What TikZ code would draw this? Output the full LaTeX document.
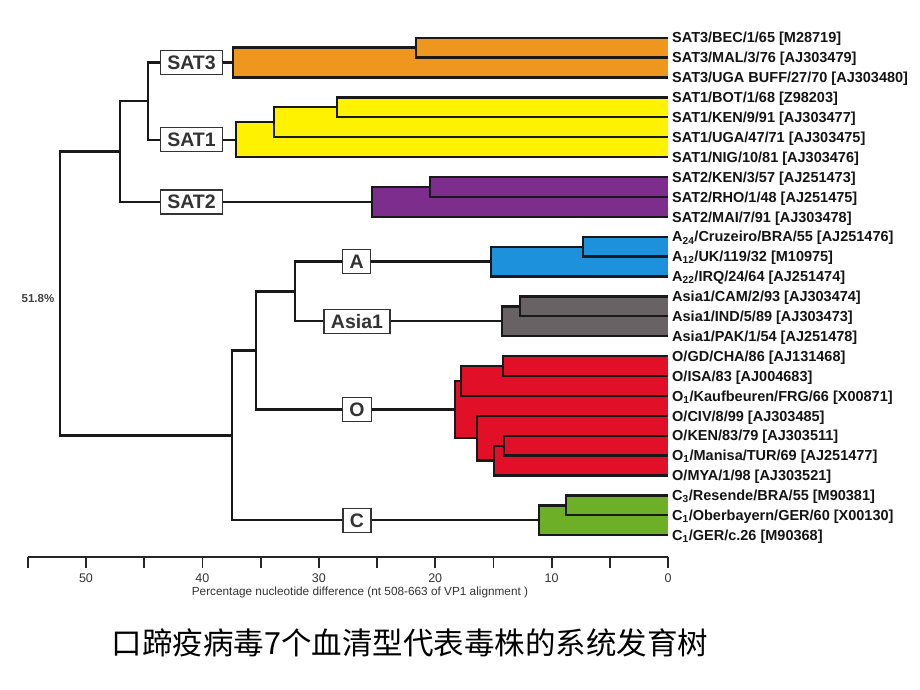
\documentclass[tikz,border=0pt]{standalone}
\usepackage{fontspec}
\setmainfont{Liberation Sans}
\newfontfamily\cjk{Noto Sans CJK SC}
\definecolor{satthree}{RGB}{238,150,30}
\definecolor{satone}{RGB}{255,242,0}
\definecolor{sattwo}{RGB}{125,45,140}
\definecolor{typea}{RGB}{30,145,220}
\definecolor{typeasia}{RGB}{105,98,100}
\definecolor{typeo}{RGB}{225,15,40}
\definecolor{typec}{RGB}{110,175,40}

\begin{document}
\begin{tikzpicture}[x=1pt,y=-1pt,
  branch/.style={line width=2.3pt, draw=black!90},
  tiplabel/.style={anchor=west, inner sep=0pt, text=black!92,
    font=\fontsize{14.5}{16}\selectfont\bfseries, text height=10.4pt, text depth=0pt},
  serobox/.style={draw=black!80, line width=1.5pt, fill=white, text=black!80,
    font=\fontsize{19.5}{20}\selectfont\bfseries, inner xsep=7pt, inner ysep=0pt,
    minimum height=24pt, text height=14pt, text depth=0pt},
  axisline/.style={line width=1.8pt, draw=black!85},
  axislabel/.style={font=\fontsize{12.5}{13}\selectfont, text=black!80, inner sep=0pt}]
\useasboundingbox (0,0) rectangle (920,690);
% Tips and their labels
\foreach \lab [count=\i from 0] in {
  {SAT3/BEC/1/65 [M28719]}, {SAT3/MAL/3/76 [AJ303479]}, {SAT3/UGA BUFF/27/70 [AJ303480]},
  {SAT1/BOT/1/68 [Z98203]}, {SAT1/KEN/9/91 [AJ303477]}, {SAT1/UGA/47/71 [AJ303475]},
  {SAT1/NIG/10/81 [AJ303476]}, {SAT2/KEN/3/57 [AJ251473]}, {SAT2/RHO/1/48 [AJ251475]},
  {SAT2/MAI/7/91 [AJ303478]}, {A\textsubscript{24}/Cruzeiro/BRA/55 [AJ251476]},
  {A\textsubscript{12}/UK/119/32 [M10975]}, {A\textsubscript{22}/IRQ/24/64 [AJ251474]},
  {Asia1/CAM/2/93 [AJ303474]}, {Asia1/IND/5/89 [AJ303473]}, {Asia1/PAK/1/54 [AJ251478]},
  {O/GD/CHA/86 [AJ131468]}, {O/ISA/83 [AJ004683]}, {O\textsubscript{1}/Kaufbeuren/FRG/66 [X00871]},
  {O/CIV/8/99 [AJ303485]}, {O/KEN/83/79 [AJ303511]}, {O\textsubscript{1}/Manisa/TUR/69 [AJ251477]},
  {O/MYA/1/98 [AJ303521]}, {C\textsubscript{3}/Resende/BRA/55 [M90381]},
  {C\textsubscript{1}/Oberbayern/GER/60 [X00130]}, {C\textsubscript{1}/GER/c.26 [M90368]}}{
  \coordinate (t\i) at (668,37.7+19.9*\i);
  \node[tiplabel] (l\i) at (672,37.7+19.9*\i) {\lab};
}
% Internal nodes
\coordinate (n3a) at (416,47.65);
\coordinate (nSAT3) at (233,62.6);
\coordinate (n1a) at (336.7,107.35);
\coordinate (n1b) at (274.3,122.3);
\coordinate (nSAT1) at (236,139.7);
\coordinate (n2a) at (430,186.95);
\coordinate (nSAT2) at (372.3,201.9);
\coordinate (nS31) at (148,101.15);
\coordinate (nSAT) at (120,151.5);
\coordinate (nAa) at (583.3,246.65);
\coordinate (nA) at (491,261.6);
\coordinate (nAsa) at (520,306.35);
\coordinate (nAsia) at (502.3,321.3);
\coordinate (nAAs) at (295,291.45);
\coordinate (nOa) at (502.7,366.05);
\coordinate (nOb) at (460.7,381);
\coordinate (nOc) at (504.3,445.65);
\coordinate (nOd) at (494.3,460.6);
\coordinate (nOe) at (476.7,438.2);
\coordinate (nO) at (455,409.6);
\coordinate (nAAsO) at (256,350.5);
\coordinate (nCa) at (565.7,505.35);
\coordinate (nC) at (539,520.3);
\coordinate (nAll) at (232,435.4);
\coordinate (root) at (60,293.45);
% Coloured clades
\fill[satthree] (nSAT3 |- n3a) rectangle (t2);
\fill[satthree] (n3a |- t0) rectangle (t1);
\fill[satone] (nSAT1 |- n1b) rectangle (t6);
\fill[satone] (n1b |- n1a) rectangle (t5);
\fill[satone] (n1a |- t3) rectangle (t4);
\fill[sattwo] (nSAT2 |- n2a) rectangle (t9);
\fill[sattwo] (n2a |- t7) rectangle (t8);
\fill[typea] (nA |- nAa) rectangle (t12);
\fill[typea] (nAa |- t10) rectangle (t11);
\fill[typeasia] (nAsia |- nAsa) rectangle (t15);
\fill[typeasia] (nAsa |- t13) rectangle (t14);
\fill[typeo] (nO |- nOb) rectangle (t22 |- nOe);
\fill[typeo] (nOb |- nOa) rectangle (t18);
\fill[typeo] (nOa |- t16) rectangle (t17);
\fill[typeo] (nOe |- t19) rectangle (t22 |- nOd);
\fill[typeo] (nOd |- nOc) rectangle (t22);
\fill[typeo] (nOc |- t20) rectangle (t21);
\fill[typec] (nC |- nCa) rectangle (t25);
\fill[typec] (nCa |- t23) rectangle (t24);
% Branches inside the clades
\draw[branch] (n3a) |- (t0) (n3a) |- (t1) (nSAT3) |- (n3a) (nSAT3) |- (t2);
\draw[branch] (n1a) |- (t3) (n1a) |- (t4) (n1b) |- (n1a) (n1b) |- (t5)
  (nSAT1) |- (n1b) (nSAT1) |- (t6);
\draw[branch] (n2a) |- (t7) (n2a) |- (t8) (nSAT2) |- (n2a) (nSAT2) |- (t9);
\draw[branch] (nAa) |- (t10) (nAa) |- (t11) (nA) |- (nAa) (nA) |- (t12);
\draw[branch] (nAsa) |- (t13) (nAsa) |- (t14) (nAsia) |- (nAsa) (nAsia) |- (t15);
\draw[branch] (nOa) |- (t16) (nOa) |- (t17) (nOb) |- (nOa) (nOb) |- (t18)
  (nOc) |- (t20) (nOc) |- (t21) (nOd) |- (nOc) (nOd) |- (t22)
  (nOe) |- (t19) (nOe) |- (nOd) (nO) |- (nOb) (nO) |- (nOe);
\draw[branch] (nCa) |- (t23) (nCa) |- (t24) (nC) |- (nCa) (nC) |- (t25);
% Serotype boxes
\node[serobox] (bSAT3) at (191.5,62.6) {SAT3};
\node[serobox] (bSAT1) at (191.5,139.7) {SAT1};
\node[serobox] (bSAT2) at (191.5,201.9) {SAT2};
\node[serobox] (bA) at (356.7,261.6) {A};
\node[serobox] (bAsia) at (357,321.3) {Asia1};
\node[serobox] (bO) at (357,409.6) {O};
\node[serobox] (bC) at (357,520.3) {C};
% Backbone
\draw[branch] (nS31) |- (bSAT3.west) (bSAT3.east) -- (nSAT3);
\draw[branch] (nS31) |- (bSAT1.west) (bSAT1.east) -- (nSAT1);
\draw[branch] (nSAT) |- (nS31) (nSAT) |- (bSAT2.west) (bSAT2.east) -- (nSAT2);
\draw[branch] (root) |- (nSAT) (root) |- (nAll);
\draw[branch] (nAll) |- (nAAsO) (nAll) |- (bC.west) (bC.east) -- (nC);
\draw[branch] (nAAsO) |- (nAAs) (nAAsO) |- (bO.west) (bO.east) -- (nO);
\draw[branch] (nAAs) |- (bA.west) (bA.east) -- (nA);
\draw[branch] (nAAs) |- (bAsia.west) (bAsia.east) -- (nAsia);
\node[font=\fontsize{11.5}{12}\selectfont\bfseries, text=black!75] (pct) at (38,299) {51.8\%};
% Scale axis
\coordinate (ax0) at (668,557);
\coordinate (axend) at (28,557);
\draw[axisline] (axend) -- (ax0);
\foreach \v in {0,5,...,55}
  \draw[axisline] (ax0) ++(-11.64*\v,0) -- ++(0,11);
\foreach \v in {0,10,...,50}
  \node[axislabel] (v\v) at (668-11.64*\v,578) {\v};
\node[axislabel, font=\fontsize{11.8}{12}\selectfont] (axtitle) at (360,592)
  {Percentage nucleotide difference (nt 508-663 of VP1 alignment )};
% Caption
\node[font=\cjk\fontsize{30.5}{32}\selectfont] (caption) at (410,643)
  {口蹄疫病毒7个血清型代表毒株的系统发育树};
\end{tikzpicture}
\end{document}
